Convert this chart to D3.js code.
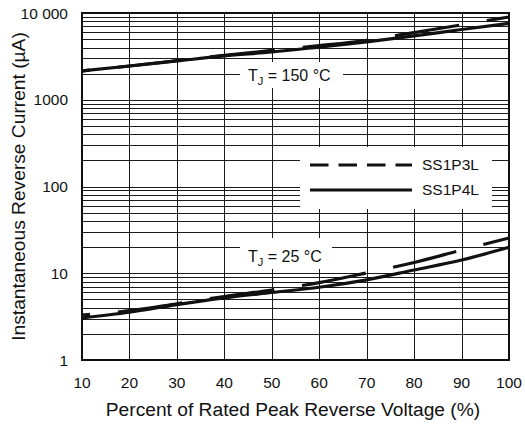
<!DOCTYPE html>
<html>
<head>
<meta charset="utf-8">
<script src="https://cdn.jsdelivr.net/npm/d3@7"></script>
<style>
  body { margin: 0; background: #fff; }
  text { font-family: "Liberation Sans", Arial, Helvetica, sans-serif; fill: #111; }
</style>
</head>
<body>
<script>
// dimensioni
var width = 525, height = 424;
var pLeft = 82, pRight = 509, pTop = 13, pBottom = 360;

// dati
var voltage = [10, 20, 30, 40, 50, 60, 70, 80, 90, 100];
var ss1p3l_150 = [2150, 2450, 2820, 3250, 3700, 4200, 4850, 5950, 7300, 9000];
var ss1p4l_150 = [2150, 2450, 2800, 3200, 3550, 4050, 4650, 5450, 6450, 7600];
var ss1p3l_25 = [3.3, 3.7, 4.45, 5.4, 6.4, 7.8, 10.1, 13.3, 18.5, 25.5];
var ss1p4l_25 = [3.05, 3.55, 4.35, 5.2, 6.0, 6.9, 8.4, 10.9, 14.2, 19.9];
var xTicks = [10, 20, 30, 40, 50, 60, 70, 80, 90, 100];
var yTicks = [1, 10, 100, 1000, 10000];
var yTickLabels = ["1", "10", "100", "1000", "10 000"];
var seriesNames = ["SS1P3L", "SS1P4L"];

var svg = d3.select("body")
    .append("svg")
    .attr("width", width)
    .attr("height", height);

// scale
var x = d3.scaleLinear().domain([10, 100]).range([pLeft, pRight]);
var y = d3.scaleLog().domain([1, 10000]).range([pBottom, pTop]);

// griglia
var grid = svg.append("g").attr("stroke", "#1a1a1a").attr("stroke-width", 1);
grid.selectAll("line.h")
    .data(y.ticks())
    .enter().append("line")
    .attr("x1", pLeft).attr("x2", pRight)
    .attr("y1", function (d) { return Math.round(y(d)) + 0.5; })
    .attr("y2", function (d) { return Math.round(y(d)) + 0.5; });
grid.selectAll("line.v")
    .data(xTicks)
    .enter().append("line")
    .attr("y1", pTop).attr("y2", pBottom)
    .attr("x1", function (d) { return Math.round(x(d)) + 0.5; })
    .attr("x2", function (d) { return Math.round(x(d)) + 0.5; });

// riquadri bianchi per etichette e legenda
var boxes = [[240, 62, 103, 26], [240, 238, 92, 31], [300, 147, 192, 62]];
svg.append("g").selectAll("rect")
    .data(boxes)
    .enter().append("rect")
    .attr("x", function (d) { return d[0]; })
    .attr("y", function (d) { return d[1]; })
    .attr("width", function (d) { return d[2]; })
    .attr("height", function (d) { return d[3]; })
    .attr("fill", "#fff");

// cornice
svg.append("rect")
    .attr("x", pLeft).attr("y", pTop)
    .attr("width", pRight - pLeft).attr("height", pBottom - pTop)
    .attr("fill", "none").attr("stroke", "#111").attr("stroke-width", 2);

// curve
var line = d3.line()
    .x(function (d) { return x(d[0]); })
    .y(function (d) { return y(d[1]); })
    .curve(d3.curveMonotoneX);

function curva(vals, dashed) {
    var p = svg.append("path")
        .datum(voltage.map(function (v, i) { return [v, vals[i]]; }))
        .attr("d", line)
        .attr("fill", "none")
        .attr("stroke", "#111")
        .attr("stroke-width", 3.2);
    if (dashed) p.attr("stroke-dasharray", "65,28").attr("stroke-dashoffset", 57);
}
curva(ss1p4l_150, false);
curva(ss1p3l_150, true);
curva(ss1p4l_25, false);
curva(ss1p3l_25, true);

// etichette assi
svg.append("g").selectAll("text")
    .data(xTicks)
    .enter().append("text")
    .attr("x", function (d) { return x(d); })
    .attr("y", 388)
    .attr("text-anchor", "middle")
    .style("font-size", "15.5px")
    .text(function (d) { return d; });

svg.append("g").selectAll("text")
    .data(yTicks)
    .enter().append("text")
    .attr("x", 68)
    .attr("y", function (d) { return y(d) + 5.5; })
    .attr("text-anchor", "end")
    .style("font-size", "15.5px")
    .text(function (d, i) { return yTickLabels[i]; });

svg.append("text")
    .attr("x", 293)
    .attr("y", 416)
    .attr("text-anchor", "middle")
    .style("font-size", "19.2px")
    .text("Percent of Rated Peak Reverse Voltage (%)");

svg.append("text")
    .attr("transform", "translate(25," + ((pTop + pBottom) / 2) + ") rotate(-90)")
    .attr("text-anchor", "middle")
    .style("font-size", "19.2px")
    .text("Instantaneous Reverse Current (\u00b5A)");

// temperature
function temperatura(xp, yp, t) {
    var tx = svg.append("text").attr("x", xp).attr("y", yp).style("font-size", "16px");
    tx.append("tspan").text("T");
    tx.append("tspan").attr("dy", 4).style("font-size", "11px").text("J");
    tx.append("tspan").attr("dy", -4).text(" = " + t + " \u00b0C");
}
temperatura(248, 81, 150);
temperatura(248, 262, 25);

// legenda
var leg = svg.append("g");
leg.selectAll("line")
    .data(seriesNames)
    .enter().append("line")
    .attr("x1", 310).attr("x2", 412)
    .attr("y1", function (d, i) { return 165 + i * 25; })
    .attr("y2", function (d, i) { return 165 + i * 25; })
    .attr("stroke", "#111")
    .attr("stroke-width", 3.2)
    .attr("stroke-dasharray", function (d, i) { return i == 0 ? "18.5,10" : null; });
leg.selectAll("text")
    .data(seriesNames)
    .enter().append("text")
    .attr("x", 422)
    .attr("y", function (d, i) { return 170 + i * 25; })
    .style("font-size", "15.5px")
    .text(function (d) { return d; });
</script>
</body>
</html>
